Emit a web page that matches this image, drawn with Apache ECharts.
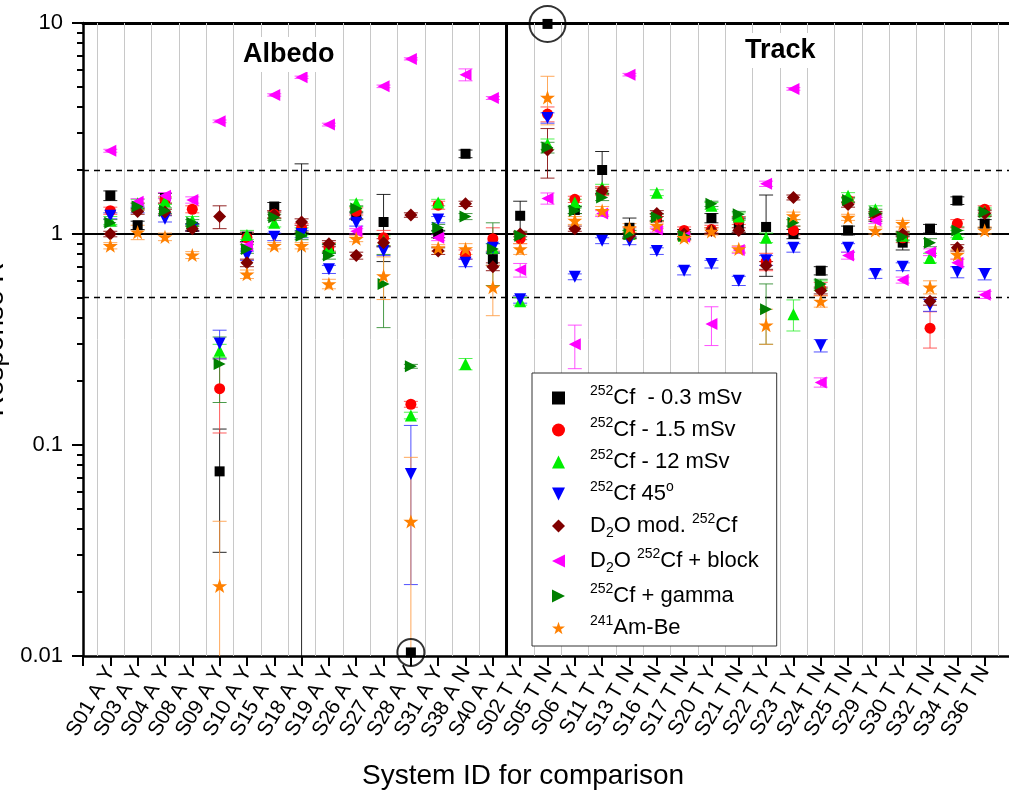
<!DOCTYPE html>
<html><head><meta charset="utf-8">
<script src="https://cdn.jsdelivr.net/npm/echarts@6/dist/echarts.min.js"></script>
<style>html,body{margin:0;padding:0;background:#fff}#chart{width:1009px;height:793px}</style>
</head><body><div id="chart"></div>
<script>
// ---------------- data ----------------
const categories = ['S01 A Y','S03 A Y','S04 A Y','S08 A Y','S09 A Y','S10 A Y','S15 A Y','S18 A Y','S19 A Y','S26 A Y','S27 A Y','S28 A Y','S31 A Y','S38 A N','S40 A Y',
  'S02 T Y','S05 T N','S06 T Y','S11 T Y','S13 T N','S16 T N','S17 T N','S20 T Y','S21 T N','S22 T Y','S23 T Y','S24 T N','S25 T N','S29 T Y','S30 T Y','S32 T N','S34 T N','S36 T N'];
const yTickLabels = ['0.01','0.1','1','10'];

const cf03    = [1.52,1.10,1.48,1.08,0.075,0.97,1.35,1.02,0.85,1.22,1.14,0.0104,1.00,2.40,0.76, 1.22,9.9,1.30,2.01,1.07,1.20,1.00,1.19,1.10,1.08,1.00,0.67,1.04,1.20,0.91,1.06,1.44,1.12];
const cf03Err = [0.08,0.05,0.08,0.04,0.044,0.05,0.06,1.13,0.04,0.04,0.40,0,0.04,0.10,0.05, 0.21,0.05,0.05,0.45,0.12,0.05,0.05,0.06,0.08,0.45,0.05,0.03,0.05,0.05,0.07,0.05,0.06,0.05];
const cf15    = [1.29,1.35,1.45,1.31,0.185,0.96,1.24,1.07,0.87,1.28,0.96,0.156,1.37,0.80,0.95, 0.95,3.70,1.46,1.60,1.02,1.20,1.04,1.05,1.16,0.74,1.04,0.55,1.45,1.22,0.96,0.358,1.12,1.31];
const cf15Err = [0.05,0.05,0.05,0.05,0.071,0.05,0.05,0.05,0.04,0.05,0.08,0.005,0.06,0.04,0.12, 0.05,0.30,0.05,0.08,0.05,0.05,0.04,0.05,0.05,0.07,0.05,0.04,0.05,0.05,0.05,0.07,0.05,0.05];
const cf12    = [1.16,1.40,1.43,1.16,0.28,0.99,1.13,1.03,0.86,1.40,0.93,0.138,1.41,0.242,0.86, 0.48,2.67,1.41,1.66,1.00,1.57,0.98,1.36,1.21,0.96,0.417,0.57,1.52,1.31,0.98,0.77,1.00,1.28];
const cf12Err = [0.05,0.06,0.05,0.05,0.02,0.05,0.05,0.04,0.04,0.05,0.05,0.005,0.05,0.015,0.04, 0.02,0.15,0.05,0.06,0.04,0.05,0.04,0.05,0.05,0.05,0.07,0.03,0.05,0.05,0.04,0.04,0.04,0.05];
const cf45    = [1.22,1.30,1.18,1.07,0.303,0.79,0.97,1.00,0.68,1.13,0.83,0.0728,1.17,0.73,0.86, 0.49,3.55,0.627,0.93,0.93,0.83,0.67,0.72,0.60,0.75,0.86,0.296,0.86,0.646,0.70,0.46,0.66,0.646];
const cf45Err = [0.04,0.04,0.04,0.04,0.047,0.04,0.04,0.04,0.03,0.04,0.04,0.051,0.04,0.03,0.04, 0.02,0.20,0.02,0.03,0.04,0.03,0.03,0.03,0.03,0.04,0.04,0.02,0.04,0.03,0.03,0.03,0.04,0.04];
const d2o     = [1.00,1.28,1.27,1.06,1.21,0.73,1.23,1.14,0.90,0.79,0.91,1.23,0.83,1.39,0.70, 1.00,2.50,1.06,1.60,0.98,1.25,1.00,1.04,1.04,0.71,1.49,0.54,1.38,1.24,1.00,0.48,0.86,1.25];
const d2oErr  = [0.03,0.04,0.04,0.03,0.15,0.03,0.04,0.04,0.03,0.03,0.04,0.03,0.03,0.04,0.03, 0.03,0.66,0.03,0.05,0.03,0.04,0.03,0.03,0.03,0.03,0.04,0.02,0.04,0.04,0.03,0.02,0.03,0.04];
const d2oBlock    = [2.48,1.42,1.52,1.45,3.42,0.88,4.56,5.53,3.30,1.03,5.01,6.76,0.96,5.69,4.41, 0.675,1.475,0.30,1.25,5.69,1.05,0.97,0.374,0.84,1.73,4.87,0.198,0.79,1.16,0.605,0.82,0.73,0.515];
const d2oBlockErr = [0.04,0.05,0.05,0.05,0.05,0.03,0.06,0.07,0.05,0.03,0.07,0.08,0.03,0.37,0.07, 0.05,0.09,0.07,0.04,0.08,0.03,0.03,0.078,0.03,0.05,0.07,0.01,0.03,0.04,0.02,0.03,0.03,0.02];
const cfGamma    = [1.13,1.35,1.29,1.13,0.242,0.85,1.20,0.98,0.79,1.32,0.58,0.236,1.07,1.21,0.85, 0.98,2.57,1.29,1.49,1.00,1.20,0.98,1.39,1.24,0.44,1.13,0.58,1.45,1.27,0.97,0.91,1.04,1.27];
const cfGammaErr = [0.04,0.05,0.04,0.04,0.083,0.04,0.04,0.04,0.03,0.04,0.22,0.005,0.04,0.04,0.28, 0.04,0.15,0.04,0.05,0.04,0.04,0.04,0.04,0.04,0.14,0.04,0.03,0.04,0.04,0.04,0.04,0.04,0.04];
const amBe    = [0.88,1.02,0.97,0.795,0.0215,0.645,0.88,0.88,0.58,0.95,0.634,0.0434,0.86,0.85,0.56, 0.85,4.44,1.16,1.29,1.07,1.10,0.96,1.03,0.85,0.37,1.22,0.48,1.20,1.04,1.12,0.56,0.80,1.04];
const amBeErr = [0.03,0.08,0.04,0.03,0.022,0.03,0.03,0.03,0.03,0.03,0.145,0.044,0.03,0.05,0.15, 0.05,1.15,0.05,0.06,0.05,0.04,0.03,0.04,0.03,0.07,0.05,0.03,0.04,0.04,0.04,0.04,0.04,0.04];

const seriesNames = ['252Cf - 0.3 mSv','252Cf - 1.5 mSv','252Cf - 12 mSv','252Cf 45o','D2O mod. 252Cf','D2O 252Cf + block','252Cf + gamma','241Am-Be'];
const legendRich = [
  '{gap|}{sup|252}{b|Cf  - 0.3 mSv}',
  '{gap|}{sup|252}{b|Cf - 1.5 mSv}',
  '{gap|}{sup|252}{b|Cf - 12 mSv}',
  '{gap|}{sup|252}{b|Cf 45}{sup|o}',
  '{gap|}{b|D}{sub|2}{b|O mod. }{sup|252}{b|Cf}',
  '{gap|}{b|D}{sub|2}{b|O }{sup|252}{b|Cf + block}',
  '{gap|}{sup|252}{b|Cf + gamma}',
  '{gap|}{sup|241}{b|Am-Be}'
];
const circledCats = ['S05 T N','S28 A Y'];   // highlighted points of the 0.3 mSv series
const circledSizes = [36, 27];
const refLinesDashed = [2, 0.5];
const refLinesSolid = [1];

// ---------------- styling ----------------
const values = [cf03, cf15, cf12, cf45, d2o, d2oBlock, cfGamma, amBe];
const errors = [cf03Err, cf15Err, cf12Err, cf45Err, d2oErr, d2oBlockErr, cfGammaErr, amBeErr];
const colors = ['#000000','#ff0000','#00ee00','#0000ff','#800000','#ff00ff','#008000','#ff8000'];
const errColors = ['#000000','#ff4040','#33ee33','#3333ff','#800000','#ff33ff','#2a8a2a','#ff9a40'];
const starPath = 'path://M50,0 L61.8,35.1 L98.1,35.1 L68.8,56.8 L79.4,91 L50,70 L20.6,91 L31.2,56.8 L1.9,35.1 L38.2,35.1 Z';
const triUp = 'path://M5,0 L10,10 L0,10 Z';
const triDown = 'path://M0,0 L10,0 L5,10 Z';
const triLeft = 'path://M10,0 L10,10 L0,5 Z';
const triRight = 'path://M0,0 L10,5 L0,10 Z';
const symbols = ['rect','circle', triUp, triDown,'diamond', triLeft, triRight, starPath];
const sizes = [10,11,12,12,13,12,12,15];
const FONT = '"Liberation Sans", Arial, sans-serif';

const series = [];
// vertical grid lines between categories
const gridPos = [0.5].concat(categories.map((c, i) => i + 1.5));
series.push({
  type: 'custom', silent: true, z: 1, clip: true,
  data: gridPos.map(v => [v, 1]), encode: {x: 0, y: 1},
  renderItem: (params, api) => {
    const cs = params.coordSys; const x = Math.round(api.coord([api.value(0), 1])[0]) + 0.5;
    return {type: 'line', shape: {x1: x, y1: cs.y, x2: x, y2: cs.y + cs.height}, style: {stroke: '#c8c8c8', lineWidth: 1}};
  }
});
// separator albedo / track
const sepPos = [categories.filter(c => c.indexOf(' A ') > 0).length + 0.5];
series.push({
  type: 'custom', silent: true, z: 3, clip: true,
  data: sepPos.map(v => [v, 1]), encode: {x: 0, y: 1},
  renderItem: (params, api) => {
    const cs = params.coordSys; const x = api.coord([api.value(0), 1])[0];
    return {type: 'line', shape: {x1: x, y1: cs.y, x2: x, y2: cs.y + cs.height}, style: {stroke: '#000', lineWidth: 3}};
  }
});
// horizontal reference lines
function hLineSeries(vals, dash, width) {
  return {
    type: 'custom', silent: true, z: 2, clip: true,
    data: vals.map(v => [1, v]), encode: {x: 0, y: 1},
    renderItem: (params, api) => {
      const cs = params.coordSys; const y = api.coord([1, api.value(1)])[1];
      return {type: 'line', shape: {x1: cs.x, y1: y, x2: cs.x + cs.width, y2: y}, style: {stroke: '#000', lineWidth: width, lineDash: dash}};
    }
  };
}
series.push(hLineSeries(refLinesDashed, [6, 5], 1.5));
series.push(hLineSeries(refLinesSolid, null, 2));
// minor ticks of the log axis
const minorVals = [];
[0.01, 0.1, 1].forEach(d => { for (let m = 2; m <= 9; m++) minorVals.push(+(m * d).toPrecision(3)); });
series.push({
  type: 'custom', silent: true, z: 5, clip: false,
  data: minorVals.map(v => [0, v]), encode: {x: 0, y: 1},
  renderItem: (params, api) => {
    const cs = params.coordSys; const y = Math.round(api.coord([0, api.value(1)])[1]);
    return {type: 'line', shape: {x1: cs.x - 6, y1: y, x2: cs.x, y2: y}, style: {stroke: '#000', lineWidth: 2}};
  }
});
// error bars
values.forEach((vals, k) => {
  series.push({
    type: 'custom', name: '_err' + k, silent: true, z: 3, clip: true,
    data: vals.map((v, i) => [i + 1, v, Math.max(v - errors[k][i], 1e-4), v + errors[k][i]]),
    encode: {x: 0, y: 1},
    renderItem: (params, api) => {
      const x = api.value(0), lo = api.value(2), hi = api.value(3);
      if (!(hi > lo)) return null;
      const p0 = api.coord([x, lo]), p1 = api.coord([x, hi]);
      const st = {stroke: errColors[k], lineWidth: 1, opacity: 0.85};
      const w = 7;
      return {type: 'group', children: [
        {type: 'line', shape: {x1: p0[0], y1: p0[1], x2: p1[0], y2: p1[1]}, style: st},
        {type: 'line', shape: {x1: p1[0] - w, y1: p1[1], x2: p1[0] + w, y2: p1[1]}, style: st},
        {type: 'line', shape: {x1: p0[0] - w, y1: p0[1], x2: p0[0] + w, y2: p0[1]}, style: st}
      ]};
    }
  });
});
// symbols
values.forEach((vals, k) => {
  series.push({
    type: 'scatter', name: seriesNames[k], z: 4 + k * 0.01,
    symbol: symbols[k], symbolSize: sizes[k], symbolKeepAspect: true,
    itemStyle: {color: colors[k], opacity: 1},
    emphasis: {disabled: true},
    data: vals.map((v, i) => [i + 1, v])
  });
});
// circled points
series.push({
  type: 'scatter', name: '_circled', z: 6, silent: true,
  symbol: 'circle',
  itemStyle: {color: 'rgba(0,0,0,0)', borderColor: '#000', borderWidth: 2},
  data: circledCats.map((c, j) => { const i = categories.indexOf(c); return {value: [i + 1, cf03[i]], symbolSize: circledSizes[j]}; })
});

const option = {
  animation: false,
  backgroundColor: '#fff',
  textStyle: {fontFamily: FONT},
  grid: {left: 83, top: 23, width: 929, height: 633, containLabel: false, outerBoundsMode: 'none'},
  title: [
    {text: 'Albedo', left: 241, top: 37, padding: [4, 2, 4, 2], backgroundColor: '#fff', textStyle: {fontSize: 27, fontWeight: 'bold', color: '#000', fontFamily: FONT, lineHeight: 27}},
    {text: 'Track', left: 743, top: 33, padding: [4, 2, 4, 2], backgroundColor: '#fff', textStyle: {fontSize: 27, fontWeight: 'bold', color: '#000', fontFamily: FONT, lineHeight: 27}}
  ],
  legend: {
    orient: 'vertical', left: 532, top: 373,
    data: seriesNames.map((n, k) => ({name: n, icon: symbols[k], itemStyle: {color: colors[k]}})),
    borderColor: '#333', borderWidth: 1, backgroundColor: '#fff',
    padding: [11, 18, 7, 20],
    itemWidth: 13, itemHeight: 13, itemGap: 7,
    selectedMode: false,
    formatter: name => legendRich[seriesNames.indexOf(name)],
    textStyle: {
      fontFamily: FONT, color: '#000',
      rich: {
        gap: {width: 20, lineHeight: 28},
        b: {fontSize: 22, lineHeight: 28, fontFamily: FONT, color: '#000'},
        sup: {fontSize: 14, lineHeight: 13, verticalAlign: 'top', fontFamily: FONT, color: '#000'},
        sub: {fontSize: 14, lineHeight: 8, verticalAlign: 'bottom', fontFamily: FONT, color: '#000'}
      }
    }
  },
  xAxis: [
    {
      type: 'value', min: 0, max: categories.length + 1, interval: 1, position: 'bottom',
      axisLine: {lineStyle: {color: '#000', width: 2.5}},
      axisTick: {length: 10, lineStyle: {color: '#000', width: 2}},
      splitLine: {show: false},
      axisLabel: {rotate: 60, fontSize: 21, color: '#000', margin: 12, fontFamily: FONT,
        formatter: v => categories[v - 1] || ''},
      name: 'System ID for comparison', nameLocation: 'middle', nameGap: 106,
      nameTextStyle: {fontSize: 28, color: '#000', fontFamily: FONT, padding: [0, 49, 0, 0]}
    },
    {
      type: 'value', min: 0, max: categories.length + 1, position: 'top',
      axisLine: {show: true, lineStyle: {color: '#000', width: 3}},
      axisTick: {show: false}, axisLabel: {show: false}, splitLine: {show: false}
    }
  ],
  yAxis: {
    type: 'log', logBase: 10, min: 0.01, max: 10,
    axisLine: {show: true, lineStyle: {color: '#000', width: 2.5}},
    axisTick: {show: true, length: 11, lineStyle: {color: '#000', width: 2}},
    splitLine: {show: false},
    axisLabel: {fontSize: 22, color: '#000', margin: 20, fontFamily: FONT,
      formatter: v => yTickLabels[Math.round(Math.log10(v)) + 2]},
    name: 'Response R', nameLocation: 'middle', nameGap: 73,
    nameTextStyle: {fontSize: 28, color: '#000', fontFamily: FONT}
  },
  series: series
};
const chart = echarts.init(document.getElementById('chart'), null, {renderer: 'canvas'});
chart.setOption(option);
</script>
</body></html>
